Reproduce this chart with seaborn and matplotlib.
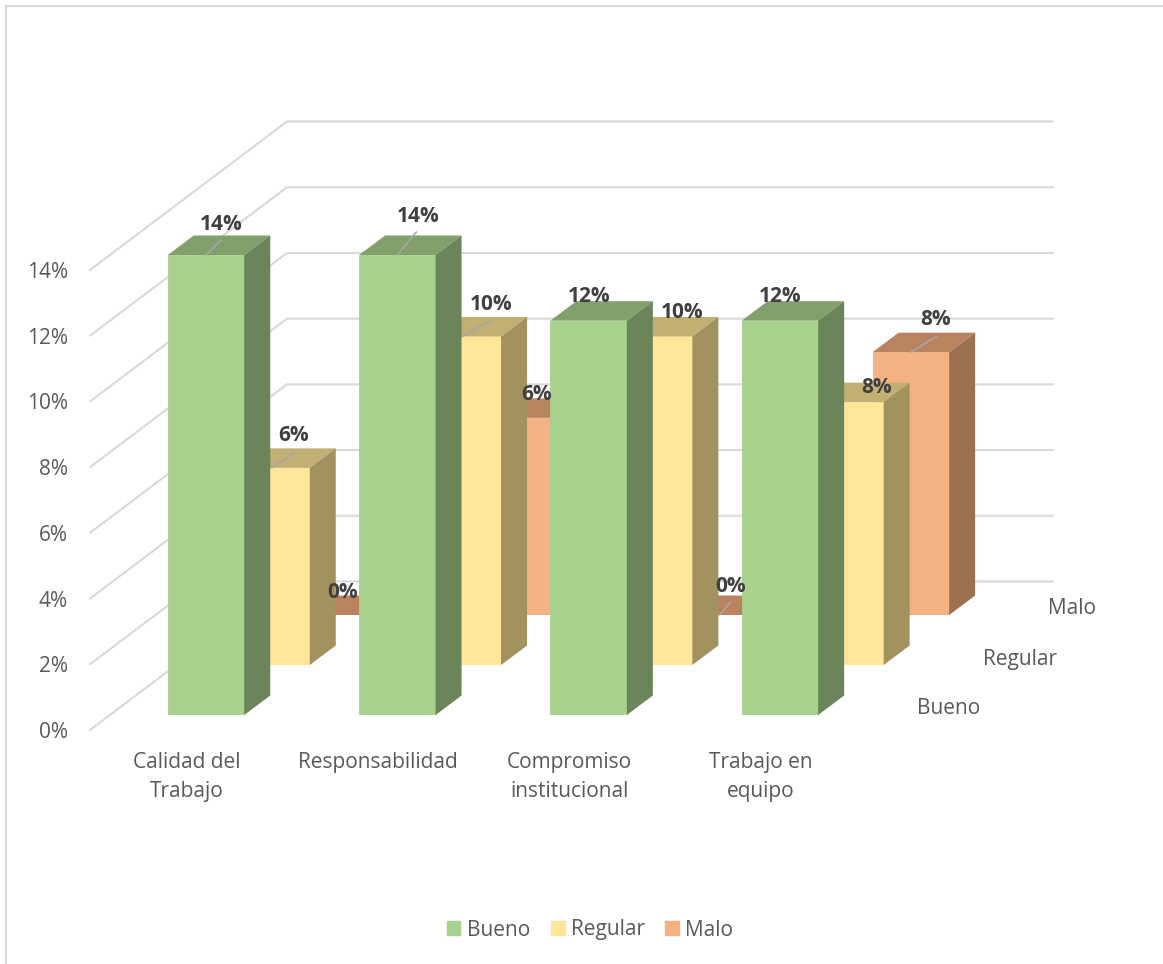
import matplotlib
matplotlib.use('Agg')
import matplotlib.pyplot as plt
import seaborn as sns
from matplotlib.patches import Patch
from matplotlib.lines import Line2D

# datos
categorias = ['Calidad del\nTrabajo', 'Responsabilidad', 'Compromiso\ninstitucional', 'Trabajo en\nequipo']
bueno = [14, 14, 12, 12]
regular = [6, 10, 10, 8]
malo = [0, 6, 0, 8]
series = ['Bueno', 'Regular', 'Malo']
ticks = [0, 2, 4, 6, 8, 10, 12, 14]

W, H = 1163, 964
GRIS = '#D9D9D9'
TEXTO = '#595959'
ETIQUETA = '#404040'
LETRA = 15

sns.set_theme(style='white')
plt.rcParams['font.family'] = ['Open Sans', 'DejaVu Sans']

fig = plt.figure(figsize=(W / 100, H / 100), dpi=100, facecolor='white')


def caja(izq, base, ancho, alto):
    # posicion en pixeles de la imagen -> fraccion de figura
    return [izq / W, 1 - base / H, ancho / W, alto / H]


# borde del grafico
fig.add_artist(Line2D([6 / W, 6 / W], [0, 1 - 6 / H], color=GRIS, lw=1.5))
fig.add_artist(Line2D([6 / W, 1], [1 - 6 / H, 1 - 6 / H], color=GRIS, lw=1.5))

# paredes y eje de valores
pared = fig.add_axes(caja(90, 730, 963, 460))
pared.patch.set_visible(False)
pared.set_xlim(0, 963)
pared.set_ylim(0, 14)
for v in ticks:
    pared.plot([0, 197, 963], [v, v + 4.52, v + 4.52], color=GRIS, lw=1.5, clip_on=False)
pared.set_xticks([])
pared.set_yticks(ticks)
pared.set_yticklabels([str(t) + '%' for t in ticks], fontsize=LETRA, color=TEXTO)
pared.tick_params(axis='y', length=0, pad=15.8)
sns.despine(ax=pared, left=True, bottom=True)

# capas de atras hacia adelante
capas = [
    (malo, 2, '#F4B183', '#BA8360', '#9C7151'),
    (regular, 1, '#FFE699', '#C2AF74', '#A2925F'),
    (bueno, 0, '#A9D18E', '#81A06C', '#6B8459'),
]
dx = 26 / 191.3
dy = 19.5 / 32.86
ejes = {}
for valores, k, color, arriba, lado in capas:
    ax = fig.add_axes(caja(110.35 + 65.5 * k, 715 - 50 * k, 765.2, 460))
    sns.barplot(x=categorias, y=valores, color=color, width=0.4, saturation=1,
                edgecolor=color, linewidth=0.6, ax=ax)
    ax.set_xlim(-0.5, 3.5)
    ax.set_ylim(0, 14)
    ax.axis('off')
    for b in ax.containers[0]:
        x0, x1, v = b.get_x(), b.get_x() + b.get_width(), b.get_height()
        ax.fill([x0, x0 + dx, x1 + dx, x1], [v, v + dy, v + dy, v], color=arriba, lw=0, clip_on=False)
        ax.fill([x1, x1 + dx, x1 + dx, x1], [0, dy, v + dy, v], color=lado, lw=0, clip_on=False)
    ejes[k] = ax
    ax.annotate(series[k], (3.5, 0), xytext=(41.5, 6), textcoords='offset pixels',
                ha='left', va='center', fontsize=LETRA, color=TEXTO, annotation_clip=False)

frente = ejes[0]

# etiquetas de categoria
for i, c in enumerate(categorias):
    frente.annotate(c, (i, 0), xytext=(-19.5, -37), textcoords='offset pixels', ha='center', va='top',
                    fontsize=LETRA, color=TEXTO, linespacing=1.5, annotation_clip=False)

# etiquetas de datos: desplazamiento en pixeles y guia desde la barra
desp = {
    0: [(15, 31), (20.5, 39), (0.5, 24.5), (0.5, 24.5)],
    1: [(22.5, 32), (28, 32), (27.6, 24), (31, 15)],
    2: [(6, 22), (8, 23), (11, 29), (25, 33)],
}
guias = {
    0: {0: (15, 15), 1: (19, 23)},
    1: {0: (23, 15), 1: (28, 16)},
    2: {2: (11, 13), 3: (26, 16)},
}
for valores, k, color, arriba, lado in capas:
    for i, v in enumerate(valores):
        frente.annotate(str(v) + '%', (i, v), xycoords=ejes[k].transData, xytext=desp[k][i],
                        textcoords='offset pixels', ha='center', va='center', fontsize=LETRA,
                        fontweight='bold', color=ETIQUETA, annotation_clip=False, zorder=6)
        if i in guias[k]:
            frente.annotate('', (i, v), xycoords=ejes[k].transData, xytext=guias[k][i],
                            textcoords='offset pixels', annotation_clip=False, zorder=5,
                            arrowprops=dict(arrowstyle='-', color='#A6A6A6', lw=1.2, shrinkA=0, shrinkB=0))

# leyenda
colores = ['#A9D18E', '#FFE699', '#F4B183']
fig.legend(handles=[Patch(color=c, label=s) for c, s in zip(colores, series)],
           loc='center', bbox_to_anchor=(590 / W, 1 - 930 / H), ncol=3, frameon=False,
           fontsize=LETRA, labelcolor=TEXTO, handlelength=0.67, handleheight=0.67,
           handletextpad=0.29, columnspacing=1.0, borderpad=0)

fig.savefig('out.png', dpi=100)
